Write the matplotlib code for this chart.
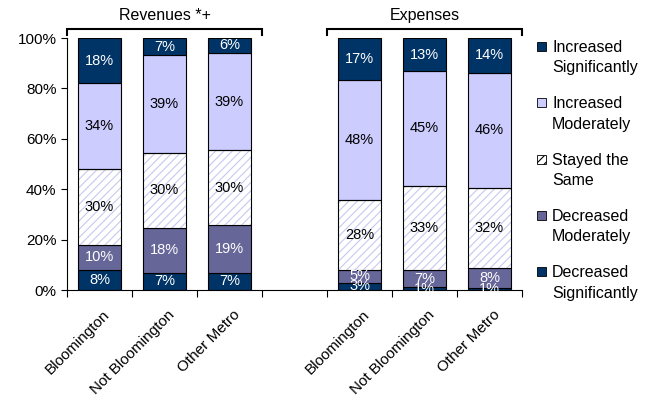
import matplotlib
matplotlib.use("Agg")
import matplotlib.pyplot as plt
import numpy as np
from matplotlib.patches import Rectangle

plt.rcParams['font.family'] = ['Liberation Sans', 'DejaVu Sans']
plt.rcParams['hatch.linewidth'] = 0.8

groups = ["Bloomington", "Not Bloomington", "Other Metro", "", "Bloomington", "Not Bloomington", "Other Metro"]
series = ["Decreased Significantly", "Decreased Moderately", "Stayed the Same",
          "Increased Moderately", "Increased Significantly"]
dec_sig = [8, 7, 7, None, 3, 1, 1]
dec_mod = [10, 18, 19, None, 5, 7, 8]
same = [30, 30, 30, None, 28, 33, 32]
inc_mod = [34, 39, 39, None, 48, 45, 46]
inc_sig = [18, 7, 6, None, 17, 13, 14]
legend_labels = ["Increased\nSignificantly", "Increased\nModerately", "Stayed the\nSame",
                 "Decreased\nModerately", "Decreased\nSignificantly"]
section_titles = ["Revenues *+", "Expenses"]

navy = "#003366"
lav = "#CCCCFF"
purple = "#666699"
colors = [navy, purple, "white", lav, navy]
hatches = [None, None, "////", None, None]
txtcol = ["white", "white", "black", "black", "white"]

W, H = 649, 405
fig = plt.figure(figsize=(W / 100, H / 100), dpi=100)
ax = fig.add_axes([67/W, 1 - 290/H, (522-67)/W, (290-38)/H])

data = [dec_sig, dec_mod, same, inc_mod, inc_sig]
x = np.arange(len(groups))
idx = [i for i in x if dec_sig[i] is not None]
totals = {i: sum(d[i] for d in data) for i in idx}
bottoms = {i: 0.0 for i in idx}
for s, d in enumerate(data):
    xs = [i for i in idx]
    h = [d[i] / totals[i] * 100 for i in idx]
    b = [bottoms[i] for i in idx]
    if hatches[s]:
        ax.bar(xs, h, bottom=b, width=0.66, color="white", edgecolor="#C8C8F0",
               linewidth=0, hatch=hatches[s], zorder=2)
        ax.bar(xs, h, bottom=b, width=0.66, color="none", edgecolor="black",
               linewidth=0.8, zorder=3)
    else:
        ax.bar(xs, h, bottom=b, width=0.66, color=colors[s], edgecolor="black",
               linewidth=0.8, zorder=2)
    for j, i in enumerate(idx):
        ax.text(i, b[j] + h[j] / 2, f"{d[i]}%", ha="center", va="center",
                fontsize=10.5, color=txtcol[s], zorder=4)
        bottoms[i] += h[j]

ax.set_xlim(-0.5, len(groups) - 0.5)
ax.set_ylim(0, 100)
ax.set_yticks(np.arange(0, 101, 20))
ax.set_yticklabels([f"{v}%" for v in range(0, 101, 20)], fontsize=11)
ax.set_xticks(np.arange(-0.5, len(groups), 1.0))
ax.set_xticklabels([])
ax.tick_params(axis='x', length=5, direction='out', width=0.8)
ax.tick_params(axis='y', length=4, direction='out', width=0.8)
for i in idx:
    ax.text(i + 0.05, -7, groups[i], rotation=45, ha="right", va="top",
            fontsize=11, rotation_mode="anchor")
ax.spines['top'].set_visible(False)
ax.spines['right'].set_visible(False)
for sp in ['left', 'bottom']:
    ax.spines[sp].set_linewidth(0.8)

# brackets
for (x0, x1), title in zip([(-0.5, 2.5), (3.5, 6.5)], section_titles):
    yb = 103.5
    ax.plot([x0, x0, x1, x1], [yb - 2.5, yb, yb, yb - 2.5], color="black", lw=1.5,
            clip_on=False, solid_joinstyle='miter')
    ax.text((x0 + x1) / 2, yb + 2.5, title, ha="center", va="bottom", fontsize=11.5)

# legend (manual, square aligned with first line)
order = [4, 3, 2, 1, 0]
for k, s in enumerate(order):
    ytop = 40 + k * 56.3
    fig.patches.append(Rectangle((537/W, 1 - (ytop + 11)/H), 9/W, 9/H,
                                 transform=fig.transFigure, facecolor=colors[s],
                                 edgecolor="black", linewidth=0.6, hatch=hatches[s]))
    fig.text(552/W, 1 - ytop/H, legend_labels[k], ha="left", va="top",
             fontsize=11.5, linespacing=1.45)

fig.savefig("out.png", dpi=100)
